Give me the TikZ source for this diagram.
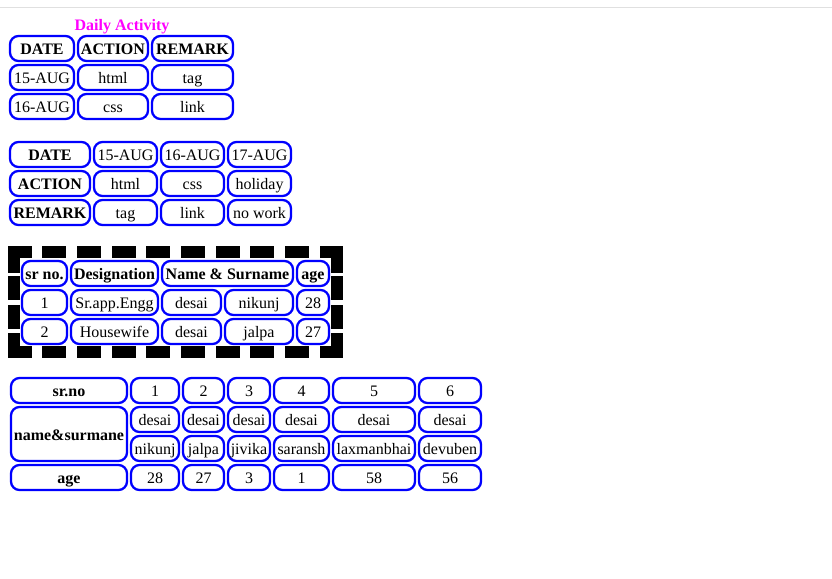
\documentclass[tikz,border=0pt]{standalone}
\usepackage{fontspec}
\setmainfont{Liberation Serif}
\definecolor{webblue}{RGB}{0,0,255}
\definecolor{webmag}{RGB}{255,0,255}
\newcommand\cellat[6]{\node[cellbox, minimum width=#4pt-#2pt-2pt, minimum height=#5pt-#3pt-2pt] (#1) at ({(#2+#4)/2},{(#3+#5)/2}) {#6};}
\newcommand\blk[4]{\fill[black] (#1,#2) rectangle (#3,#4);}
\begin{document}
\begin{tikzpicture}[x=1pt,y=-1pt,
  cellbox/.style={draw=webblue, line width=2.3pt, rounded corners=8.5pt, inner sep=0pt,
    font=\fontsize{16}{19}\selectfont, text height=16.26pt, text depth=3.46pt, align=center},
  hd/.style={font=\fontsize{16}{19}\selectfont\bfseries}]
\useasboundingbox (0,0) rectangle (832,578);
\draw[black!12, line width=1pt] (0,7.5) -- (832,7.5);
% ---- table 1
\node[anchor=base, font=\fontsize{16}{19}\selectfont\bfseries, text=webmag] (title) at (122,31) {Daily Activity};
\cellat{a11}{9}{35}{75}{62}{\bfseries DATE}
\cellat{a12}{77}{35}{149}{62}{\bfseries ACTION}
\cellat{a13}{151}{35}{234}{62}{\bfseries REMARK}
\cellat{a21}{9}{64}{75}{91}{15-AUG}
\cellat{a22}{77}{64}{149}{91}{html}
\cellat{a23}{151}{64}{234}{91}{tag}
\cellat{a31}{9}{93}{75}{120}{16-AUG}
\cellat{a32}{77}{93}{149}{120}{css}
\cellat{a33}{151}{93}{234}{120}{link}
% ---- table 2
\cellat{b11}{9}{141}{91}{168}{\bfseries DATE}
\cellat{b12}{93}{141}{158}{168}{15-AUG}
\cellat{b13}{160}{141}{225}{168}{16-AUG}
\cellat{b14}{227}{141}{292}{168}{17-AUG}
\cellat{b21}{9}{170}{91}{197}{\bfseries ACTION}
\cellat{b22}{93}{170}{158}{197}{html}
\cellat{b23}{160}{170}{225}{197}{css}
\cellat{b24}{227}{170}{292}{197}{holiday}
\cellat{b31}{9}{199}{91}{226}{\bfseries REMARK}
\cellat{b32}{93}{199}{158}{226}{tag}
\cellat{b33}{160}{199}{225}{226}{link}
\cellat{b34}{227}{199}{292}{226}{no work}
% ---- table 3 border
\blk{8}{246}{32}{258}
\blk{8}{246}{20}{273}
\foreach \s in {42,77,112,146,181,216,250,285}{
  \blk{\s}{246}{\s+24}{258}
  \blk{\s}{346}{\s+24}{358}}
\blk{320}{246}{343}{258}
\blk{331}{246}{343}{273}
\blk{8}{346}{32}{358}
\blk{8}{333}{20}{358}
\blk{320}{346}{343}{358}
\blk{331}{333}{343}{358}
\foreach \s in {276,305}{
  \blk{8}{\s}{20}{\s+24}
  \blk{331}{\s}{343}{\s+24}}
% ---- table 3 cells
\cellat{c11}{21}{260}{68}{287}{\bfseries sr no.}
\cellat{c12}{70}{260}{159}{287}{\bfseries Designation}
\cellat{c13}{161}{260}{294}{287}{\bfseries Name \& Surname}
\cellat{c14}{296}{260}{330}{287}{\bfseries age}
\cellat{c21}{21}{289}{68}{316}{1}
\cellat{c22}{70}{289}{159}{316}{Sr.app.Engg}
\cellat{c23}{161}{289}{222}{316}{desai}
\cellat{c24}{224}{289}{294}{316}{nikunj}
\cellat{c25}{296}{289}{330}{316}{28}
\cellat{c31}{21}{318}{68}{345}{2}
\cellat{c32}{70}{318}{159}{345}{Housewife}
\cellat{c33}{161}{318}{222}{345}{desai}
\cellat{c34}{224}{318}{294}{345}{jalpa}
\cellat{c35}{296}{318}{330}{345}{27}
% ---- table 4
\cellat{d10}{10}{377}{128}{404}{\bfseries sr.no}
\cellat{d11}{130}{377}{180}{404}{1}
\cellat{d12}{182}{377}{225}{404}{2}
\cellat{d13}{227}{377}{271}{404}{3}
\cellat{d14}{273}{377}{330}{404}{4}
\cellat{d15}{332}{377}{416}{404}{5}
\cellat{d16}{418}{377}{482}{404}{6}
\cellat{d20}{10}{406}{128}{462}{\bfseries name\&surmane}
\cellat{d21}{130}{406}{180}{433}{desai}
\cellat{d22}{182}{406}{225}{433}{desai}
\cellat{d23}{227}{406}{271}{433}{desai}
\cellat{d24}{273}{406}{330}{433}{desai}
\cellat{d25}{332}{406}{416}{433}{desai}
\cellat{d26}{418}{406}{482}{433}{desai}
\cellat{d31}{130}{435}{180}{462}{nikunj}
\cellat{d32}{182}{435}{225}{462}{jalpa}
\cellat{d33}{227}{435}{271}{462}{jivika}
\cellat{d34}{273}{435}{330}{462}{saransh}
\cellat{d35}{332}{435}{416}{462}{laxmanbhai}
\cellat{d36}{418}{435}{482}{462}{devuben}
\cellat{d40}{10}{464}{128}{491}{\bfseries age}
\cellat{d41}{130}{464}{180}{491}{28}
\cellat{d42}{182}{464}{225}{491}{27}
\cellat{d43}{227}{464}{271}{491}{3}
\cellat{d44}{273}{464}{330}{491}{1}
\cellat{d45}{332}{464}{416}{491}{58}
\cellat{d46}{418}{464}{482}{491}{56}
\end{tikzpicture}
\end{document}
